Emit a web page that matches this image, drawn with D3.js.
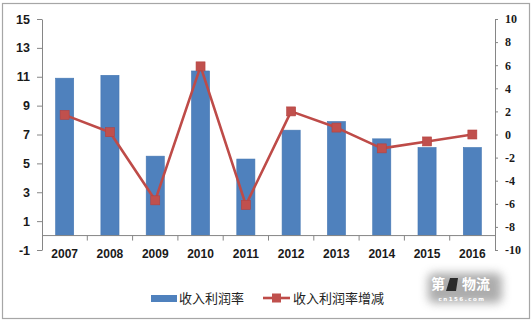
<!DOCTYPE html>
<html>
<head>
<meta charset="utf-8">
<script src="https://cdn.jsdelivr.net/npm/d3@7"></script>
<style>
  html, body { margin: 0; padding: 0; background: #fff; }
  svg { display: block; }
</style>
</head>
<body>
<svg id="chart" width="532" height="323"></svg>
<script>
// Yearly data
const years = ["2007","2008","2009","2010","2011","2012","2013","2014","2015","2016"];
const profitRate = [10.9, 11.1, 5.5, 11.4, 5.3, 7.3, 7.9, 6.7, 6.1, 6.1];
const rateChange = [1.7, 0.2, -5.7, 5.9, -6.1, 2.0, 0.6, -1.2, -0.6, 0.0];
const leftTicks = [-1, 1, 3, 5, 7, 9, 11, 13, 15];
const rightTicks = [-10, -8, -6, -4, -2, 0, 2, 4, 6, 8, 10];
const seriesNames = ["收入利润率", "收入利润率增减"];

const svg = d3.select("#chart");
const plot = { left: 42, right: 495, top: 19, bottom: 250 };

const barColor = "#4f81bd";
const lineColor = "#be4b48";
const axisColor = "#868686";
const plainNum = d => String(d);

// outer frame
svg.append("rect")
  .attr("x", 2.5).attr("y", 3.5)
  .attr("width", 527).attr("height", 315)
  .attr("fill", "#fff")
  .attr("stroke", "#a6a6a6").attr("stroke-width", 1.2);

const x = d3.scaleBand().domain(years)
  .range([plot.left, plot.right])
  .paddingInner(0.6).paddingOuter(0.3);
const xCat = d3.scaleBand().domain(years).range([plot.left, plot.right]);
const yL = d3.scaleLinear().domain([-1, 15]).range([plot.bottom, plot.top]);
const yR = d3.scaleLinear().domain([-10, 10]).range([plot.bottom, plot.top]);

// bars
svg.append("g").selectAll("rect")
  .data(profitRate)
  .join("rect")
  .attr("x", (d, i) => x(years[i]))
  .attr("width", x.bandwidth())
  .attr("y", d => yL(d))
  .attr("height", d => yL(0) - yL(d))
  .attr("fill", barColor)
  .attr("stroke", "#4577b3").attr("stroke-width", 0.6);

// left axis
const gL = svg.append("g")
  .attr("transform", `translate(${plot.left},0)`)
  .call(d3.axisLeft(yL).tickValues(leftTicks).tickFormat(plainNum)
    .tickSize(5).tickPadding(7).tickSizeOuter(0));
gL.select(".domain").attr("stroke", axisColor);
gL.selectAll(".tick line").attr("stroke", axisColor);
gL.selectAll(".tick text")
  .attr("fill", "#1a1a1a")
  .style("font-family", "'Liberation Sans', Arial, sans-serif")
  .style("font-size", "12.5px").style("font-weight", "bold");

// right axis
const gR = svg.append("g")
  .attr("transform", `translate(${plot.right},0)`)
  .call(d3.axisRight(yR).tickValues(rightTicks).tickFormat(plainNum)
    .tickSize(3).tickPadding(7).tickSizeOuter(0));
gR.select(".domain").attr("stroke", axisColor);
gR.selectAll(".tick line").attr("stroke", axisColor);
gR.selectAll(".tick text")
  .attr("fill", "#1a1a1a")
  .style("font-family", "'Liberation Serif', 'Times New Roman', serif")
  .style("font-size", "12px").style("font-weight", "bold");

// category axis, crossing at zero
const y0 = yL(0);
const gX = svg.append("g").attr("transform", `translate(0,${y0})`);
gX.append("line")
  .attr("x1", plot.left).attr("x2", plot.right)
  .attr("stroke", axisColor);
gX.selectAll("line.tk")
  .data(years.slice(1))
  .join("line").attr("class", "tk")
  .attr("x1", d => xCat(d)).attr("x2", d => xCat(d))
  .attr("y1", 0).attr("y2", 5)
  .attr("stroke", axisColor);
svg.append("g").selectAll("text")
  .data(years)
  .join("text")
  .attr("x", d => xCat(d) + xCat.bandwidth() / 2)
  .attr("y", 258)
  .attr("text-anchor", "middle")
  .attr("fill", "#1a1a1a")
  .style("font-family", "'Liberation Sans', Arial, sans-serif")
  .style("font-size", "12px").style("font-weight", "bold")
  .text(d => d);

// change line with square markers
const line = d3.line()
  .x((d, i) => x(years[i]) + x.bandwidth() / 2)
  .y(d => yR(d));
svg.append("path")
  .datum(rateChange)
  .attr("d", line)
  .attr("fill", "none")
  .attr("stroke", lineColor).attr("stroke-width", 2.6)
  .attr("stroke-linejoin", "round");
const ms = 9;
svg.append("g").selectAll("rect")
  .data(rateChange)
  .join("rect")
  .attr("x", (d, i) => x(years[i]) + x.bandwidth() / 2 - ms / 2)
  .attr("y", d => yR(d) - ms / 2)
  .attr("width", ms).attr("height", ms)
  .attr("fill", "#c0504d")
  .attr("stroke", "#b5423f").attr("stroke-width", 0.6);

// legend
const lg = svg.append("g");
lg.append("rect")
  .attr("x", 151).attr("y", 295).attr("width", 26).attr("height", 7)
  .attr("fill", barColor);
lg.append("text")
  .attr("x", 179).attr("y", 303)
  .attr("fill", "#222")
  .style("font-family", "'Noto Sans CJK SC', sans-serif")
  .style("font-size", "13px")
  .text(seriesNames[0]);
lg.append("line")
  .attr("x1", 263).attr("x2", 290).attr("y1", 298).attr("y2", 298)
  .attr("stroke", lineColor).attr("stroke-width", 2.6);
lg.append("rect")
  .attr("x", 272).attr("y", 293.5).attr("width", 9).attr("height", 9)
  .attr("fill", "#c0504d");
lg.append("text")
  .attr("x", 293).attr("y", 303)
  .attr("fill", "#222")
  .style("font-family", "'Noto Sans CJK SC', sans-serif")
  .style("font-size", "13px")
  .text(seriesNames[1]);

// site logo stamp in the corner
const defs = svg.append("defs");
defs.append("filter").attr("id", "soft")
  .attr("x", "-40%").attr("y", "-60%").attr("width", "180%").attr("height", "220%")
  .append("feGaussianBlur").attr("stdDeviation", 5);
const wm = svg.append("g");
wm.append("rect")
  .attr("x", 428).attr("y", 273).attr("width", 74).attr("height", 30).attr("rx", 6)
  .attr("fill", "#8a8a8a").attr("opacity", 0.7)
  .attr("filter", "url(#soft)");
wm.append("text")
  .attr("x", 431).attr("y", 289)
  .attr("fill", "#fff")
  .style("font-family", "'Noto Sans CJK SC', sans-serif")
  .style("font-size", "14px").style("font-weight", "bold")
  .text("第");
wm.append("path")
  .attr("d", "M450,278 L458,278 L456,291 L446,291 Z")
  .attr("fill", "#2a2a2a");
wm.append("text")
  .attr("x", 462).attr("y", 289)
  .attr("fill", "#fff")
  .style("font-family", "'Noto Sans CJK SC', sans-serif")
  .style("font-size", "14px").style("font-weight", "bold")
  .text("物流");
wm.append("text")
  .attr("x", 462).attr("y", 301)
  .attr("text-anchor", "middle")
  .attr("fill", "#fff")
  .style("font-family", "'DejaVu Sans', sans-serif")
  .style("font-size", "5.5px").style("font-weight", "bold")
  .style("letter-spacing", "1.5px")
  .text("cn156.com");
</script>
</body>
</html>
